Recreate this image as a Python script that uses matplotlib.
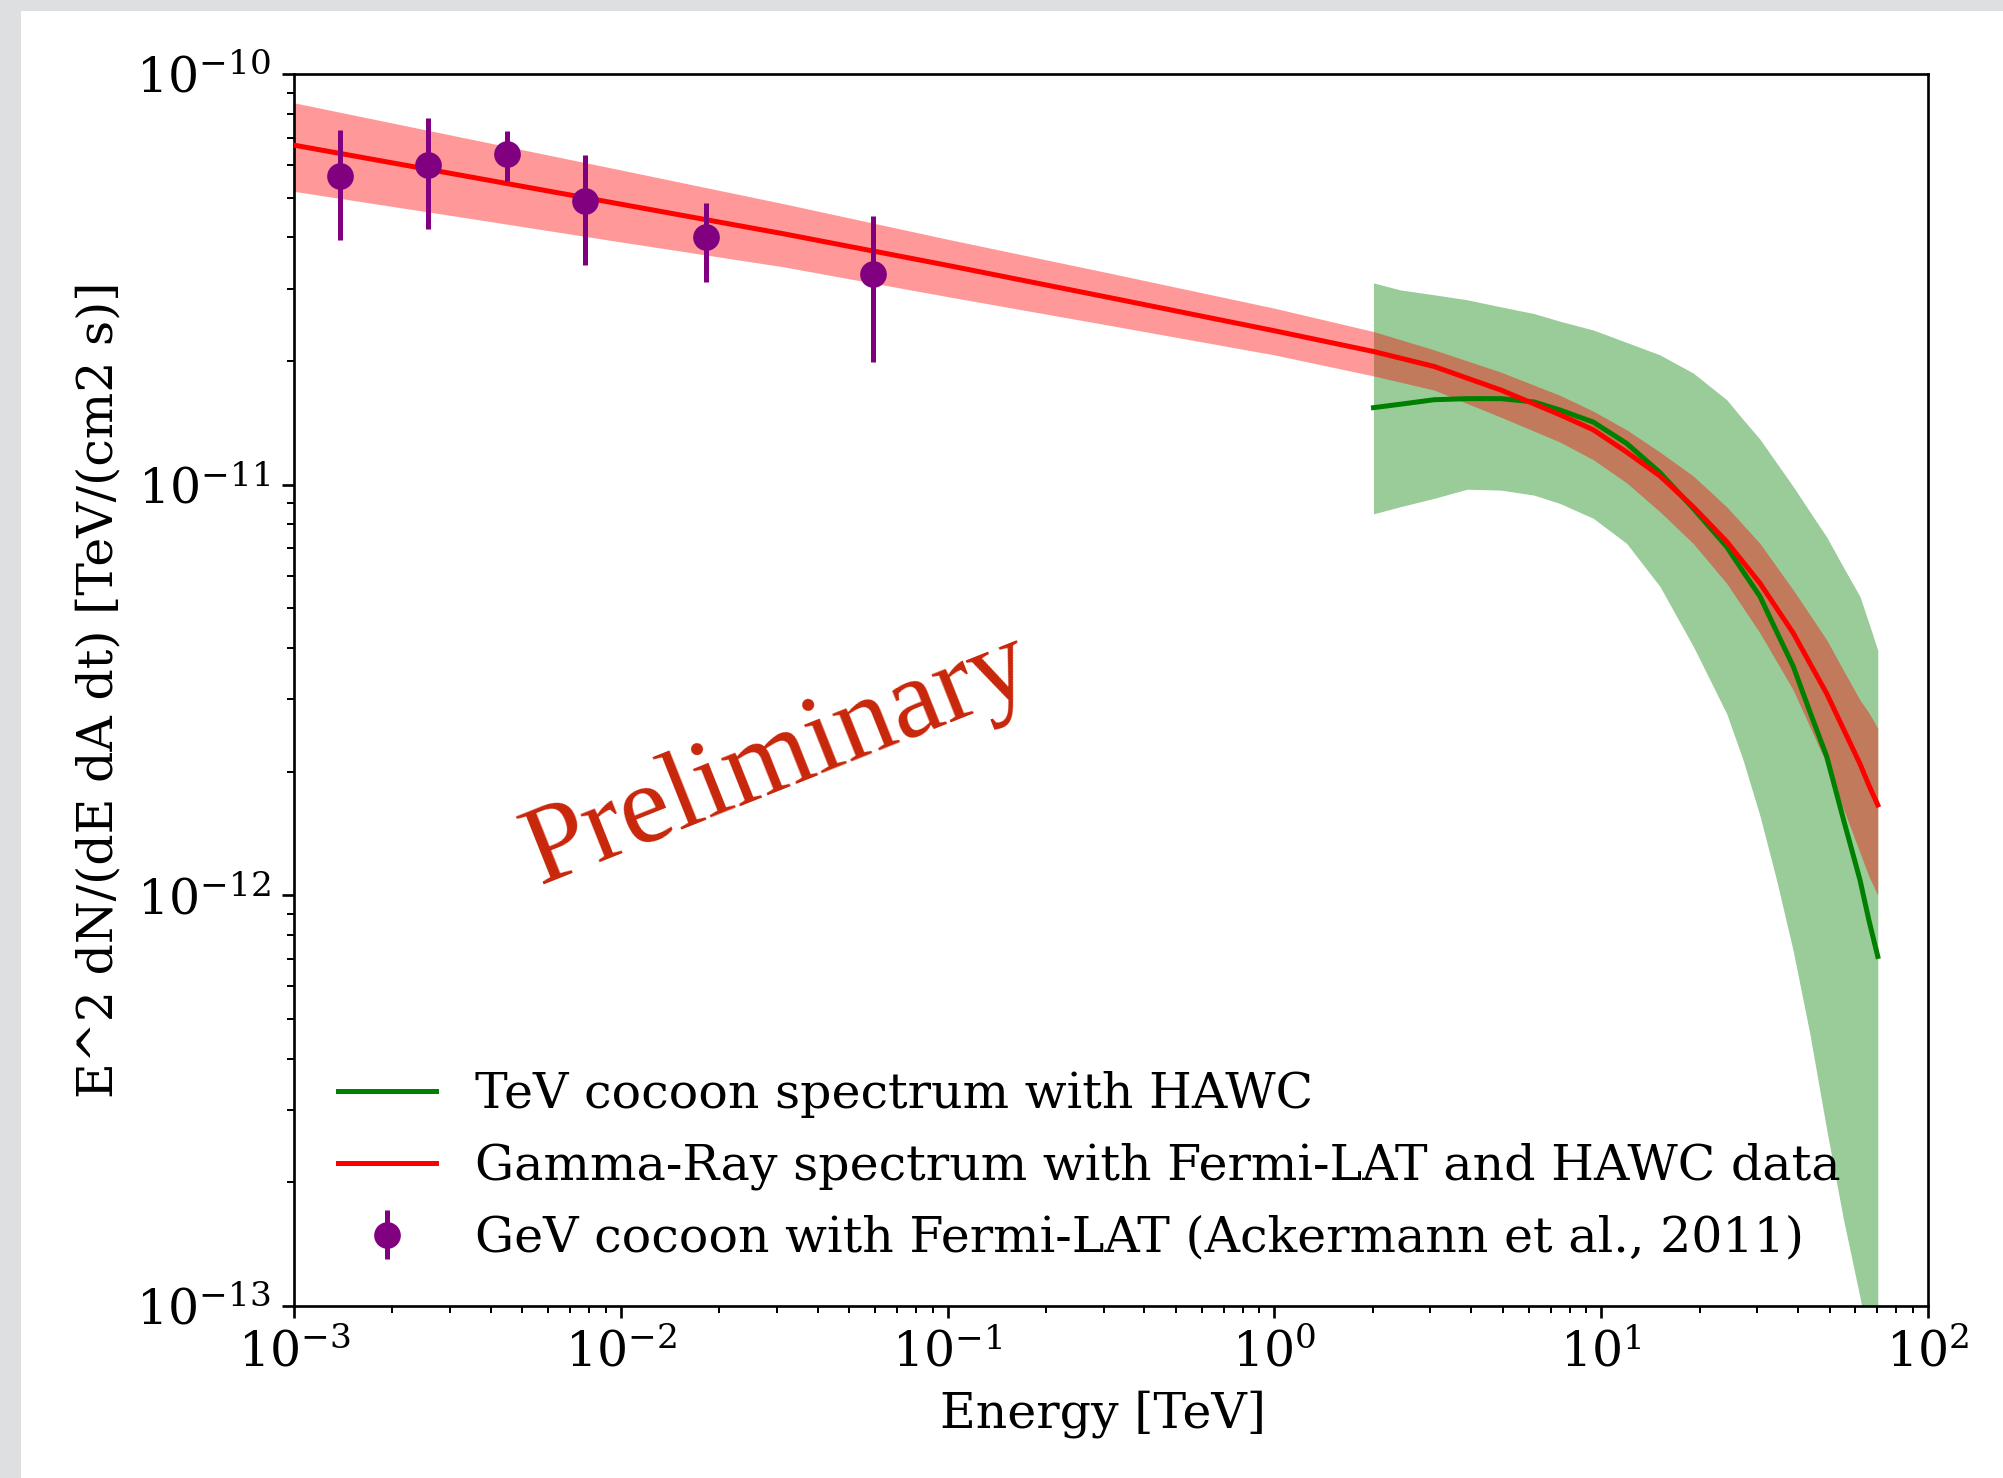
import matplotlib
matplotlib.use("Agg")
import matplotlib.pyplot as plt
from matplotlib.patches import Rectangle

# ---------------- data ----------------
# Fermi-LAT GeV cocoon points
lat_energy = [1.38e-3, 2.57e-3, 4.48e-3, 7.76e-3, 1.82e-2, 5.90e-2]
lat_flux = [5.64e-11, 5.99e-11, 6.39e-11, 4.90e-11, 4.00e-11, 3.25e-11]
lat_err_hi = [7.31e-11, 7.80e-11, 7.26e-11, 6.35e-11, 4.86e-11, 4.51e-11]
lat_err_lo = [3.95e-11, 4.20e-11, 5.49e-11, 3.42e-11, 3.12e-11, 1.99e-11]

# Combined gamma-ray spectrum (Fermi-LAT + HAWC)
model_energy = [1e-3, 3.16e-3, 1e-2, 3.16e-2, 0.1, 0.316, 1.0, 2.01, 3.08,
                4.93, 7.48, 9.46, 11.97, 15.13, 19.13, 24.21, 30.62, 38.70,
                48.97, 55.0, 61.93, 66.0, 70.2]
model_flux = [6.71e-11, 5.69e-11, 4.82e-11, 4.08e-11, 3.42e-11, 2.85e-11,
              2.37e-11, 2.11e-11, 1.94e-11, 1.70e-11, 1.48e-11, 1.36e-11,
              1.20e-11, 1.05e-11, 8.83e-12, 7.27e-12, 5.75e-12, 4.35e-12,
              3.10e-12, 2.55e-12, 2.09e-12, 1.85e-12, 1.66e-12]
model_hi = [8.51e-11, 7.05e-11, 5.84e-11, 4.83e-11, 3.96e-11, 3.27e-11,
            2.69e-11, 2.36e-11, 2.13e-11, 1.88e-11, 1.65e-11, 1.51e-11,
            1.36e-11, 1.20e-11, 1.05e-11, 8.83e-12, 7.19e-12, 5.54e-12,
            4.19e-12, 3.54e-12, 2.99e-12, 2.78e-12, 2.55e-12]
model_lo = [5.18e-11, 4.50e-11, 3.90e-11, 3.39e-11, 2.87e-11, 2.44e-11,
            2.07e-11, 1.84e-11, 1.70e-11, 1.46e-11, 1.27e-11, 1.15e-11,
            1.01e-11, 8.59e-12, 7.19e-12, 5.75e-12, 4.35e-12, 3.16e-12,
            2.09e-12, 1.63e-12, 1.27e-12, 1.11e-12, 1.00e-12]

# HAWC TeV cocoon spectrum
hawc_energy = [2.01, 2.43, 3.08, 3.89, 4.93, 6.23, 7.48, 9.46, 11.97, 15.13,
               19.13, 24.21, 27.2, 30.62, 34.4, 38.70, 43.5, 48.97, 55.0,
               61.93, 66.0, 70.2]
hawc_flux = [1.54e-11, 1.57e-11, 1.61e-11, 1.62e-11, 1.62e-11, 1.59e-11,
             1.52e-11, 1.42e-11, 1.26e-11, 1.07e-11, 8.75e-12, 7.06e-12,
             6.14e-12, 5.34e-12, 4.39e-12, 3.61e-12, 2.80e-12, 2.18e-12,
             1.54e-12, 1.09e-12, 8.67e-13, 7.10e-13]
hawc_hi = [3.10e-11, 2.98e-11, 2.90e-11, 2.82e-11, 2.71e-11, 2.61e-11,
           2.50e-11, 2.38e-11, 2.22e-11, 2.07e-11, 1.87e-11, 1.61e-11,
           1.44e-11, 1.29e-11, 1.13e-11, 9.89e-12, 8.59e-12, 7.46e-12,
           6.31e-12, 5.34e-12, 4.59e-12, 3.95e-12]
hawc_lo = [8.49e-12, 8.84e-12, 9.26e-12, 9.75e-12, 9.70e-12, 9.43e-12,
           9.00e-12, 8.28e-12, 7.19e-12, 5.65e-12, 4.04e-12, 2.77e-12,
           2.13e-12, 1.56e-12, 1.09e-12, 7.31e-13, 4.60e-13, 2.69e-13,
           1.64e-13, 1.05e-13, 8.0e-14, 6.5e-14]

labels = ["TeV cocoon spectrum with HAWC",
          "Gamma-Ray spectrum with Fermi-LAT and HAWC data",
          "GeV cocoon with Fermi-LAT (Ackermann et al., 2011)"]

# ---------------- styling ----------------
plt.rcParams['font.family'] = ['DejaVu Serif']
plt.rcParams['mathtext.fontset'] = 'dejavuserif'
FS = 14.7

fig = plt.figure(figsize=(2003 / 240, 1478 / 240), dpi=240)
fig.patch.set_facecolor('white')
# grey frame strips (top and left) as in the screenshot
fig.patches.append(Rectangle((0, 1 - 11 / 1478), 1, 11 / 1478, transform=fig.transFigure,
                             facecolor='#dedfe1', edgecolor='none', zorder=-10))
fig.patches.append(Rectangle((0, 0), 21 / 2003, 1, transform=fig.transFigure,
                             facecolor='#dedfe1', edgecolor='none', zorder=-10))

ax = fig.add_axes([294 / 2003, 1 - 1306 / 1478, (1928 - 294) / 2003, (1306 - 74) / 1478])

ax.fill_between(hawc_energy, hawc_lo, hawc_hi, color='green', alpha=0.4, lw=0, zorder=1)
ax.fill_between(model_energy, model_lo, model_hi, color='red', alpha=0.4, lw=0, zorder=2)
l1, = ax.plot(hawc_energy, hawc_flux, color='green', lw=1.5, zorder=3, label=labels[0])
l2, = ax.plot(model_energy, model_flux, color='red', lw=1.5, zorder=4, label=labels[1])

yerr = [[f - lo for f, lo in zip(lat_flux, lat_err_lo)],
        [hi - f for f, hi in zip(lat_flux, lat_err_hi)]]
eb = ax.errorbar(lat_energy, lat_flux, yerr=yerr, fmt='o', color='purple',
                 ms=7, elinewidth=1.5, capsize=0, zorder=5, label=labels[2])

ax.set_xscale('log')
ax.set_yscale('log')
ax.set_xlim(1e-3, 1e2)
ax.set_ylim(1e-13, 1e-10)
ax.tick_params(labelsize=FS)
ax.set_xlabel('Energy [TeV]', fontsize=FS)
ax.xaxis.label.set_x(0.4953)
ax.set_ylabel('E^2 dN/(dE dA dt) [TeV/(cm2 s)]', fontsize=FS)

ax.legend(handles=[l1, l2, eb], loc='lower left', frameon=False, fontsize=FS)

ax.text(0.2965, 0.443, 'Preliminary', transform=ax.transAxes, rotation=21.7,
        ha='center', va='center', rotation_mode='anchor', fontsize=34,
        color='#c8260a', family=['Liberation Serif'])

fig.savefig('out.png', dpi=240, facecolor=fig.get_facecolor())
